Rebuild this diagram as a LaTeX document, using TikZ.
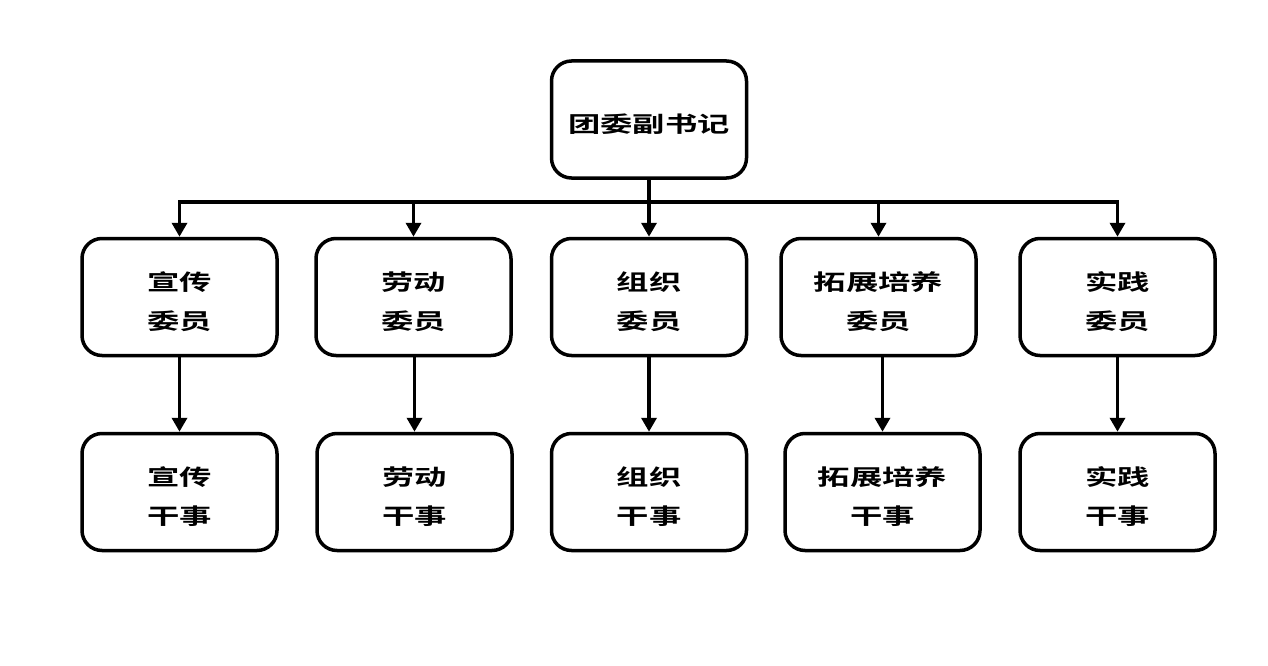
\documentclass[tikz,border=0pt]{standalone}
\usepackage{fontspec}
\newfontfamily\cjk[FakeStretch=1.47]{Noto Sans CJK SC Bold}
\usetikzlibrary{arrows.meta,calc}
\begin{document}
\begin{tikzpicture}[x=1pt,y=-1pt,
  box/.style={draw,line width=3.5pt,rounded corners=20pt,minimum width=195pt,minimum height=117pt,inner sep=0pt},
  txt/.style={align=center,font=\cjk\fontsize{22pt}{39pt}\selectfont,inner sep=0pt,yshift=-5pt},
  conn/.style={line width=3.7pt},
  arr/.style={conn,-{Triangle[width=15pt,length=14pt]}}]
\useasboundingbox (0,0) rectangle (1268,666);
\node[box,label={[txt]center:团委副书记}] (top) at (649,119.5) {};
\node[box,label={[txt]center:宣传\\委员}] (a1) at (179.5,297) {};
\node[box,label={[txt]center:劳动\\委员}] (a2) at (413.5,297) {};
\node[box,label={[txt]center:组织\\委员}] (a3) at (649,297) {};
\node[box,label={[txt]center:拓展培养\\委员}] (a4) at (878.5,297) {};
\node[box,label={[txt]center:实践\\委员}] (a5) at (1117.5,297) {};
\node[box,label={[txt]center:宣传\\干事}] (b1) at (179.5,492) {};
\node[box,label={[txt]center:劳动\\干事}] (b2) at (414.5,492) {};
\node[box,label={[txt]center:组织\\干事}] (b3) at (649,492) {};
\node[box,label={[txt]center:拓展培养\\干事}] (b4) at (882.5,492) {};
\node[box,label={[txt]center:实践\\干事}] (b5) at (1117.5,492) {};
\coordinate (busL) at (179.5,202);
\coordinate (busR) at (1117.5,202);
\draw[conn] (top.south) -- (top.south |- busL);
\draw[conn,line cap=rect] (busL) -- (busR);
\foreach \i in {1,...,5}{
  \draw[arr] (busL -| a\i.north) -- (a\i.north);
  \draw[arr] (a\i.south -| b\i.north) -- (b\i.north);
}
\end{tikzpicture}
\end{document}
